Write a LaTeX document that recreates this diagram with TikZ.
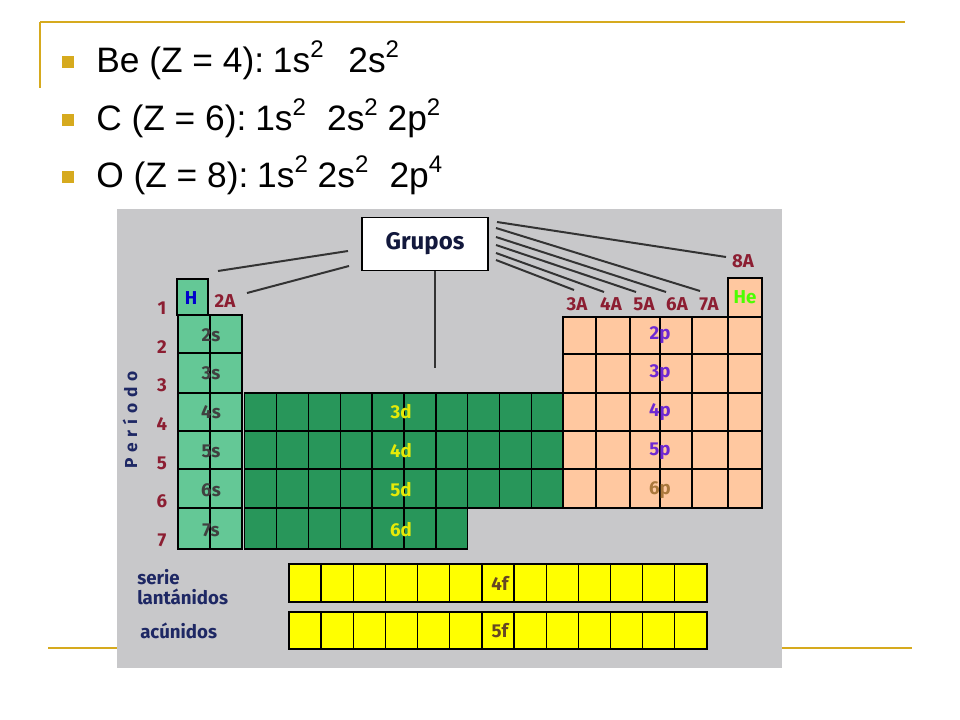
\documentclass[tikz,border=0pt]{standalone}
\usepackage{fontspec}
\setmainfont{Liberation Sans}
\newfontfamily\tabfont{Fira Sans}
\newcommand{\supx}[1]{\raisebox{0.42em}{\fontsize{18}{18}\selectfont #1}}
\definecolor{gold}{RGB}{214,170,30}
\definecolor{bggray}{RGB}{200,200,202}
\definecolor{sgreen}{RGB}{100,200,150}
\definecolor{dgreen}{RGB}{40,150,90}
\definecolor{porange}{RGB}{255,200,160}
\definecolor{fyellow}{RGB}{255,255,0}
\definecolor{lblred}{RGB}{140,30,50}
\definecolor{purp}{RGB}{110,40,210}
\definecolor{brn}{RGB}{170,120,60}
\definecolor{navy}{RGB}{30,40,100}
\tikzset{
  cell/.style={draw=black,line width=1pt},
  lbl/.style={font=\tabfont\bfseries\fontsize{14}{14}\selectfont,inner sep=0pt},
  grp/.style={lbl,text=lblred},
  bul/.style={fill=gold,minimum size=9pt,inner sep=0pt},
  btxt/.style={anchor=west,font=\fontsize{26.5}{26.5}\selectfont,inner sep=0pt},
  gline/.style={line width=1.5pt,black!80}
}
\begin{document}
\begin{tikzpicture}[x=0.75pt,y=-0.75pt]
\useasboundingbox (0,0) rectangle (960,720);
\fill[white] (0,0) rectangle (960,720);
% slide frame
\draw[gold,line width=1.2pt] (40,22) -- (905,22);
\draw[gold,line width=1.2pt] (40,22) -- (40,88);
\draw[gold,line width=1.2pt] (48,648) -- (912,648);
% bullets
\node[bul] (b1) at (68,62) {};
\node[bul] (b2) at (68,120) {};
\node[bul] (b3) at (68,177) {};
\node[btxt] (t1) at (96,60) {Be (Z = 4):\hspace{0.25em}1s\supx{2}\hspace{0.7em}2s\supx{2}};
\node[btxt] (t2) at (96,118) {C (Z = 6):\hspace{0.25em}1s\supx{2}\hspace{0.6em}2s\supx{2} 2p\supx{2}};
\node[btxt] (t3) at (96,175) {O (Z = 8):\hspace{0.25em}1s\supx{2} 2s\supx{2}\hspace{0.6em}2p\supx{4}};
% table background
\fill[bggray] (117,209) rectangle (782,668);
% s block
\draw[cell,fill=sgreen] (177,279) rectangle (208,315);
\foreach \t/\b in {315/353,353/393,393/431,431/469,469/508,508/549}{
  \draw[cell,fill=sgreen] (178,\t) rectangle (210,\b);
  \draw[cell,fill=sgreen] (210,\t) rectangle (242,\b);
}
% d block
\foreach \t/\b in {393/431,431/469,469/508}{
  \foreach \i in {0,...,9}{
    \draw[cell,fill=dgreen] ({244.5+31.9*\i},\t) rectangle ({244.5+31.9*(\i+1)},\b);
  }
}
\foreach \i in {0,...,6}{
  \draw[cell,fill=dgreen] ({244.5+31.9*\i},508) rectangle ({244.5+31.9*(\i+1)},549);
}
% p block
\draw[cell,fill=porange] (728,278) rectangle (762,317);
\foreach \t/\b in {317/354,354/393,393/431,431/469,469/508}{
  \foreach \l/\r in {563/596,596/630,630/660,660/692,692/728,728/762}{
    \draw[cell,fill=porange] (\l,\t) rectangle (\r,\b);
  }
}
% f block
\foreach \i in {0,...,12}{
  \draw[cell,fill=fyellow] ({289+32.15*\i},564) rectangle ({289+32.15*(\i+1)},602);
  \draw[cell,fill=fyellow] ({289+32.15*\i},612) rectangle ({289+32.15*(\i+1)},649);
}
% cell labels
\node[lbl,text=blue!80!black] (H) at (191,298) {H};
\node[lbl,text=green!70!yellow] (He) at (745,297) {He};
\foreach \n/\y in {2/335,3/373,4/412,5/451,6/490,7/530}{
  \node[lbl,text=black!75] (s\n) at (211,\y) {\n s};
}
\foreach \n/\y in {3/412,4/451,5/490,6/530}{
  \node[lbl,text=yellow!90!green] (d\n) at (401,\y) {\n d};
}
\foreach \n/\y in {2/335,3/373,4/412,5/451}{
  \node[lbl,text=purp] (p\n) at (660,\y) {\n p};
}
\node[lbl,text=brn] (p6) at (660,490) {6p};
\node[lbl,text=brn!60!black] (f4) at (500,583) {4f};
\node[lbl,text=brn!60!black] (f5) at (500,631) {5f};
% period numbers
\foreach \n/\y in {1/308,2/347,3/385,4/424,5/463,6/501,7/540}{
  \node[grp] (r\n) at (162,\y) {\n};
}
\node[lbl,text=navy,rotate=90,font=\tabfont\bfseries\fontsize{13}{13}\selectfont] (per) at (130,420) {P\,\,e\,\,r\,\,í\,\,o\,\,d\,\,o};
% groups
\node[grp] (g2) at (225,301) {2A};
\node[grp] (g3) at (577,304) {3A};
\node[grp] (g4) at (611,304) {4A};
\node[grp] (g5) at (644,304) {5A};
\node[grp] (g6) at (677,304) {6A};
\node[grp] (g7) at (709,304) {7A};
\node[grp] (g8) at (743,261) {8A};
% f labels
\node[lbl,text=navy,anchor=west,align=left,font=\tabfont\bfseries\fontsize{14}{15}\selectfont] (ser) at (137,587) {serie\\lantánidos};
\node[lbl,text=navy,anchor=west,font=\tabfont\bfseries\fontsize{14}{15}\selectfont] (act) at (140,631) {acúnidos};
% Grupos box
\node[draw=black,line width=1pt,fill=white,minimum width=94.5pt,minimum height=40pt,font=\tabfont\bfseries\fontsize{18}{18}\selectfont,text=navy!60!black] (gr) at (425,244) {Grupos};
\coordinate (v2) at (435,368);
\draw[gline] (gr.south -| v2) -- (v2);
\coordinate (l1a) at (348,251); \coordinate (l1b) at (218,271);
\coordinate (l2a) at (349,266); \coordinate (l2b) at (247,293);
\draw[gline] (l1a) -- (l1b);
\draw[gline] (l2a) -- (l2b);
\coordinate (r0a) at (497,222); \coordinate (r0b) at (726,257);
\draw[gline] (r0a) -- (r0b);
\foreach \ya/\xb/\yb in {228/700/291,237/666/292,245/636/292,253/604/292,260/574/290}{
  \draw[gline] (496,\ya) -- (\xb,\yb);
}
\end{tikzpicture}
\end{document}
